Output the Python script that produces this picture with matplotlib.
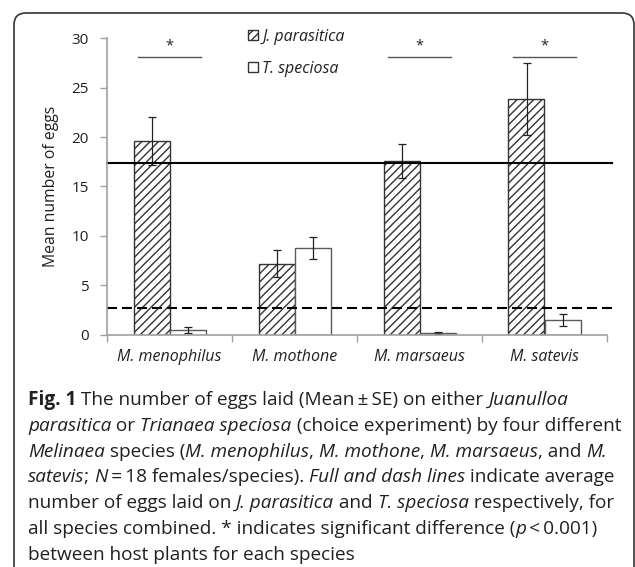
import matplotlib

matplotlib.use("Agg")
import matplotlib.pyplot as plt
import numpy as np
from matplotlib.patches import FancyBboxPatch, Patch
from matplotlib.transforms import IdentityTransform

# --- values ---------------------------------------------------------------
SPECIES = ["M. menophilus", "M. mothone", "M. marsaeus", "M. satevis"]
J_MEAN = [19.6, 7.2, 17.6, 23.85]
J_SE = [2.45, 1.4, 1.7, 3.65]
T_MEAN = [0.48, 8.8, 0.2, 1.45]
T_SE = [0.3, 1.1, 0.1, 0.6]
J_AVG = 17.4       # full line
T_AVG = 2.74       # dashed line
SIGNIF = [0, 2, 3]  # categories marked with *

W, H = 635, 567
TXT = "#231f20"

plt.rcParams.update({
    "font.family": "Open Sans",
    "hatch.linewidth": 1.0,
    "hatch.color": "#222222",
})

fig = plt.figure(figsize=(W / 100, H / 100), dpi=100)
ax = fig.add_axes([107 / W, 1 - 334.7 / H, 500 / W, 296.4 / H])

x = np.arange(len(SPECIES))
bw = 0.288
ax.bar(x - bw / 2, J_MEAN, bw, color="white", edgecolor="#333333", hatch="////",
       lw=1.0, label="J. parasitica")
ax.bar(x + bw / 2, T_MEAN, bw, color="white", edgecolor="#5a5a5a", lw=1.0,
       label="T. speciosa")
ax.errorbar(x - bw / 2, J_MEAN, yerr=J_SE, fmt="none", ecolor="#222222",
            elinewidth=0.9, capsize=3, capthick=0.9)
ax.errorbar(x + bw / 2, T_MEAN, yerr=T_SE, fmt="none", ecolor="#222222",
            elinewidth=0.9, capsize=3, capthick=0.9)

ax.axhline(J_AVG, xmin=0, xmax=1.009, color="black", lw=1.5, clip_on=False)
ax.axhline(T_AVG, xmin=0, xmax=1.009, color="black", lw=1.5, clip_on=False,
           dashes=(4.8, 2.4))

for i in SIGNIF:
    ax.plot([i - 0.25, i + 0.25], [28.07, 28.07], color="#555555", lw=1.0)
    ax.text(i, 29.2, "*", ha="center", va="center", fontsize=10.5, color=TXT)

ax.set_xlim(-0.5, 3.5)
ax.set_ylim(0, 30)
ax.set_yticks([0, 5, 10, 15, 20, 25, 30])
ax.set_xticks(x)
ax.set_xticklabels(SPECIES, fontstyle="italic", fontsize=11.5, color=TXT)
ax.set_xticks(np.arange(-0.5, 4, 1), minor=True)
ax.tick_params(axis="x", which="major", length=0, pad=10)
ax.tick_params(axis="x", which="minor", length=5, color="#a0a0a0", width=1)
ax.tick_params(axis="y", length=5, color="#a0a0a0", width=1, labelsize=11,
               labelcolor=TXT, pad=8)
for s in ("top", "right"):
    ax.spines[s].set_visible(False)
for s in ("left", "bottom"):
    ax.spines[s].set_color("#a0a0a0")
    ax.spines[s].set_linewidth(1.2)
ax.set_ylabel("Mean number of eggs", fontsize=11.3, color=TXT, labelpad=9)

handles = [Patch(facecolor="white", edgecolor="#333333", hatch="////", lw=1.0),
           Patch(facecolor="white", edgecolor="#333333", lw=1.0)]
leg = ax.legend(handles, ["J. parasitica", "T. speciosa"], loc="upper left",
                bbox_to_anchor=(240 / W, 1 - 21 / H), bbox_transform=fig.transFigure,
                frameon=False, handlelength=0.6, handleheight=0.6,
                handletextpad=0.3, labelspacing=1.0, borderpad=0,
                prop={"style": "italic", "size": 11.5})
for t in leg.get_texts():
    t.set_color(TXT)

# rounded frame around the figure (bottom runs off the image)
fig.patches.append(FancyBboxPatch((14, -40), 620, H - 13 + 40,
                                  boxstyle="round,pad=0,rounding_size=12",
                                  transform=IdentityTransform(), fill=False,
                                  edgecolor="#333333", lw=1.2))

# --- caption with mixed styles ----------------------------------------------
CAPTION = [
    [("Fig. 1", "b"), (" The number of eggs laid (Mean\u2009\u00b1\u2009SE) on either ", "n"),
     ("Juanulloa", "i")],
    [("parasitica", "i"), (" or ", "n"), ("Trianaea speciosa", "i"),
     (" (choice experiment) by four different", "n")],
    [("Melinaea", "i"), (" species (", "n"), ("M. menophilus", "i"), (", ", "n"),
     ("M. mothone", "i"), (", ", "n"), ("M. marsaeus", "i"), (", and ", "n"), ("M.", "i")],
    [("satevis", "i"), ("; ", "n"), ("N", "i"), ("\u2009=\u200918 females/species). ", "n"),
     ("Full and dash lines", "i"), (" indicate average", "n")],
    [("number of eggs laid on ", "n"), ("J. parasitica", "i"), (" and ", "n"),
     ("T. speciosa", "i"), (" respectively, for", "n")],
    [("all species combined. * indicates significant difference (", "n"), ("p", "i"),
     ("\u2009<\u20090.001)", "n")],
    [("between host plants for each species", "n")],
]
CAP_SIZE = 13.7
renderer = fig.canvas.get_renderer()


def _props(style):
    return dict(fontsize=CAP_SIZE, color=TXT,
                fontweight="bold" if style == "b" else "normal",
                fontstyle="italic" if style == "i" else "normal")


def _advance(s, style):
    a = fig.text(0, 0, "|" + s + "|", **_props(style))
    b = fig.text(0, 0, "||", **_props(style))
    w = a.get_window_extent(renderer).width - b.get_window_extent(renderer).width
    a.remove(); b.remove()
    return w


for k, line in enumerate(CAPTION):
    xp = 28
    yp = 405 + k * 25.8
    for s, style in line:
        fig.text(xp / W, 1 - yp / H, s, va="baseline", ha="left", **_props(style))
        xp += _advance(s, style)

fig.savefig("out.png", dpi=100)
